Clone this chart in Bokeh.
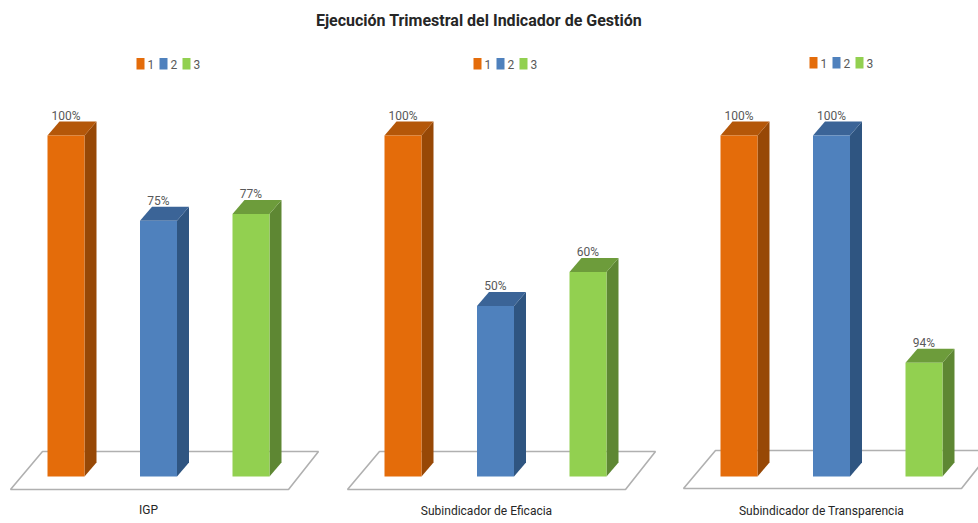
from bokeh.plotting import figure
from bokeh.models import Range1d
from bokeh.core.properties import value
from bokeh.embed import file_html
from bokeh.resources import INLINE

TITLE = "Ejecución Trimestral del Indicador de Gestión"
panels = ["IGP", "Subindicador de Eficacia", "Subindicador de Transparencia"]
series = ["1", "2", "3"]
igp = [100, 75, 77]
eficacia = [100, 50, 60]
transparencia = [100, 100, 94]
labels = [["100%", "75%", "77%"], ["100%", "50%", "60%"], ["100%", "100%", "94%"]]
axis_min = [0, 0, 91]
axis_max = [100, 100, 100]

front = ["#E46C0A", "#4F81BD", "#92D050"]
side = ["#974806", "#2F5581", "#5E8733"]
top = ["#B45709", "#3B6497", "#6D9C3B"]
FONT = value("Roboto")

W, H = 978, 523
BASE, TOP = 476, 135
p = figure(width=W, height=H, x_range=Range1d(0, W), y_range=Range1d(H, 0),
           toolbar_location=None, output_backend="svg", min_border=0,
           outline_line_color=None)
p.axis.visible = False
p.grid.visible = False


def scale_y(v, lo, hi):
    """Pixel row of a value on a panel's own value axis."""
    return BASE - (v - lo) / (hi - lo) * (BASE - TOP)


offsets = [0, 337, 673]
floor_dy = [0, 0, -1]
legend_dy = [0, 0, -1]
name_x = [148, 486, 821]
name_y = [509, 510, 510]
all_values = [igp, eficacia, transparencia]

# Floors
fx, fy = [], []
for o, d in zip(offsets, floor_dy):
    fx.append([10 + o, 288 + o, 318 + o, 42 + o])
    fy.append([489 + d, 489 + d, 451 + d, 451 + d])
p.patches(fx, fy, fill_color="white", line_color="#B0B0B0", line_width=1.6)

# Bars
BW, DX, DY, STEP, X0 = 37, 12, 14, 92.5, 47
for pi, vals in enumerate(all_values):
    for i, v in enumerate(vals):
        xl = X0 + offsets[pi] + STEP * i
        xr = xl + BW
        yt = scale_y(v, axis_min[pi], axis_max[pi])
        p.patch([xr, xr + DX, xr + DX, xr], [BASE, BASE - DY, yt - DY, yt], fill_color=side[i], line_color=None)
        p.patch([xl, xl + DX, xr + DX, xr], [yt, yt - DY, yt - DY, yt], fill_color=top[i], line_color=None)
        p.quad(left=xl, right=xr, top=yt, bottom=BASE, fill_color=front[i], line_color=None)
        p.text([(xl + xr) / 2], [yt - 20], text=[labels[pi][i]], text_font=FONT, text_font_size="12px",
               text_color="#595959", text_align="center", text_baseline="middle")

    # Legend
    o = offsets[pi]
    d = legend_dy[pi]
    for i, s in enumerate(series):
        lx = 136 + o + 23 * i
        p.quad(left=lx, right=lx + 8, top=57.5 + d, bottom=69 + d, fill_color=front[i], line_color=None)
        p.text([lx + 11], [63.5 + d], text=[s], text_font=FONT, text_font_size="12px", text_color="#595959",
               text_align="left", text_baseline="middle")

    # Panel category label
    p.text([name_x[pi]], [name_y[pi]], text=[panels[pi]], text_font=FONT,
           text_font_size="12px", text_color="#262626", text_align="center", text_baseline="middle")

p.text([478.5], [20], text=[TITLE], text_font=FONT, text_font_size="16px", text_font_style="bold",
       text_color="#262626", text_align="center", text_baseline="middle")

open("out.html", "w").write(file_html(p, INLINE))
